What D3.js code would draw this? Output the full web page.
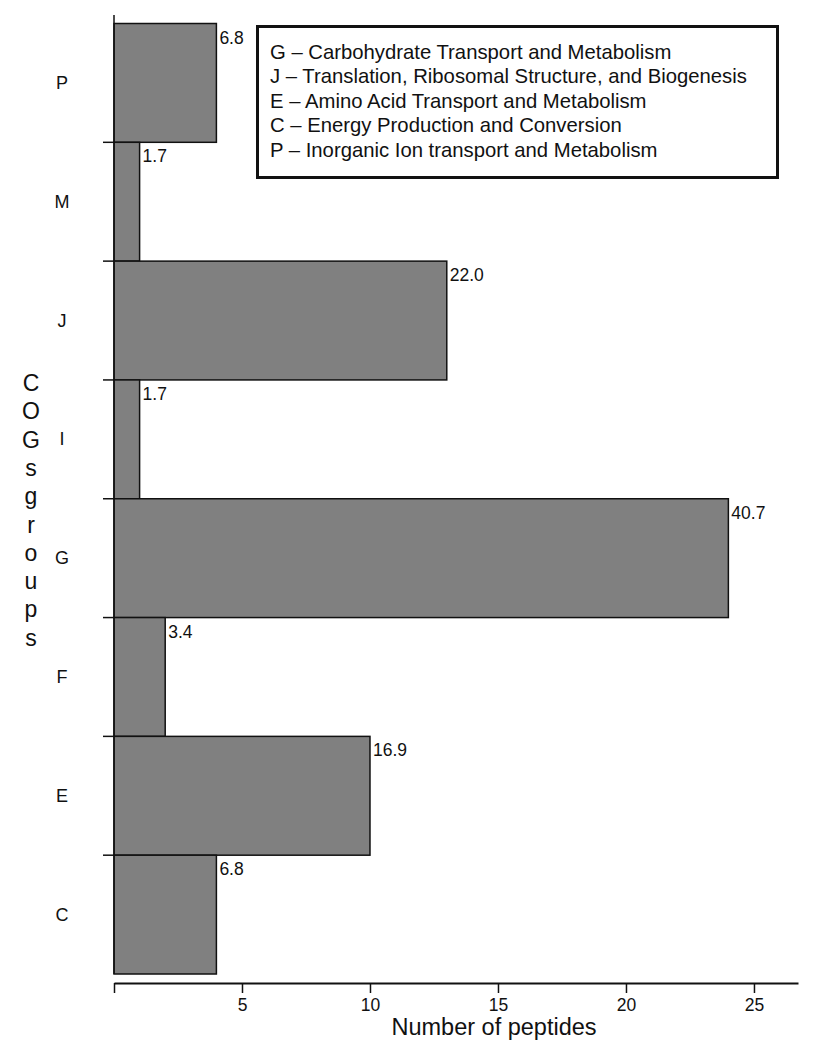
<!DOCTYPE html>
<html>
<head>
<meta charset="utf-8">
<script src="https://cdn.jsdelivr.net/npm/d3@7"></script>
<style>
  html, body { margin: 0; padding: 0; background: #fff; }
  svg { display: block; font-family: "Liberation Sans", Arial, Helvetica, sans-serif; }
</style>
</head>
<body>
<svg id="chart" width="816" height="1050"></svg>
<script>
// COG groups, top to bottom as drawn
const categories = ["P", "M", "J", "I", "G", "F", "E", "C"];
// number of peptides per group
const peptides = [4, 1, 13, 1, 24, 2, 10, 4];
// percentage labels printed at the bar ends
const percentLabels = ["6.8", "1.7", "22.0", "1.7", "40.7", "3.4", "16.9", "6.8"];
// x tick values
const xTicks = [0, 5, 10, 15, 20, 25];
// legend lines
const legendLines = [
  "G \u2013 Carbohydrate Transport and Metabolism",
  "J \u2013 Translation, Ribosomal Structure, and Biogenesis",
  "E \u2013 Amino Acid Transport and Metabolism",
  "C \u2013 Energy Production and Conversion",
  "P \u2013 Inorganic Ion transport and Metabolism"
];
const yTitle = "COGsgroups"; // stacked one letter per line, no gap for the space
const xTitle = "Number of peptides";

(function () {
  const svg = d3.select("#chart");

  // -----------------------------
  // Scales
  // -----------------------------
  const x0 = 114, xEnd = 798;
  const x = d3.scaleLinear().domain([0, 26.72]).range([x0, xEnd]);
  const y = d3.scaleBand().domain(categories).range([23.5, 974]).padding(0);

  const rows = categories.map((c, i) => ({ cat: c, v: peptides[i], lab: percentLabels[i] }));

  // -----------------------------
  // Bars
  // -----------------------------
  svg.append("g")
    .selectAll("rect")
    .data(rows)
    .enter()
    .append("rect")
    .attr("x", x(0))
    .attr("y", d => y(d.cat))
    .attr("width", d => x(d.v) - x(0))
    .attr("height", y.bandwidth())
    .attr("fill", "#808080")
    .attr("stroke", "#111")
    .attr("stroke-width", 1.5);

  // value labels
  svg.append("g")
    .selectAll("text")
    .data(rows)
    .enter()
    .append("text")
    .attr("x", d => x(d.v) + 3)
    .attr("y", d => y(d.cat) + 20)
    .attr("font-size", 17.5)
    .attr("fill", "#111")
    .text(d => d.lab);

  // -----------------------------
  // Y axis: line + ticks between bands
  // -----------------------------
  svg.append("line")
    .attr("x1", x0).attr("x2", x0)
    .attr("y1", 15).attr("y2", 974)
    .attr("stroke", "#111").attr("stroke-width", 1.5);

  const bounds = categories.slice(1).map(c => y(c));
  svg.append("g")
    .selectAll("line")
    .data(bounds)
    .enter()
    .append("line")
    .attr("x1", x0 - 11).attr("x2", x0)
    .attr("y1", d => d).attr("y2", d => d)
    .attr("stroke", "#111").attr("stroke-width", 1.5);

  svg.append("g")
    .selectAll("text")
    .data(categories)
    .enter()
    .append("text")
    .attr("x", 62)
    .attr("y", d => y(d) + y.bandwidth() / 2)
    .attr("text-anchor", "middle")
    .attr("dominant-baseline", "central")
    .attr("font-size", 18)
    .attr("fill", "#111")
    .text(d => d);

  // stacked y title
  svg.append("g")
    .selectAll("text")
    .data(yTitle.split(""))
    .enter()
    .append("text")
    .attr("x", 31)
    .attr("y", (d, i) => 383 + i * 28.3)
    .attr("text-anchor", "middle")
    .attr("dominant-baseline", "central")
    .attr("font-size", 23)
    .attr("fill", "#111")
    .text(d => d);

  // -----------------------------
  // X axis
  // -----------------------------
  const xAxis = d3.axisBottom(x)
    .tickValues(xTicks)
    .tickSize(10)
    .tickSizeOuter(0)
    .tickPadding(6)
    .tickFormat(d => d === 0 ? "" : d);

  const gx = svg.append("g")
    .attr("transform", "translate(0,983)")
    .call(xAxis);
  gx.select(".domain").attr("stroke", "#111").attr("stroke-width", 2);
  gx.selectAll(".tick line").attr("stroke", "#111").attr("stroke-width", 1.5);
  gx.selectAll(".tick text")
    .attr("font-size", 17.5)
    .attr("font-family", "Liberation Sans, Arial, sans-serif")
    .attr("fill", "#111");

  svg.append("text")
    .attr("x", 494)
    .attr("y", 1035)
    .attr("text-anchor", "middle")
    .attr("font-size", 23.5)
    .attr("fill", "#111")
    .text(xTitle);

  // -----------------------------
  // Legend box
  // -----------------------------
  svg.append("rect")
    .attr("x", 257.5).attr("y", 26.5)
    .attr("width", 520).attr("height", 151)
    .attr("fill", "#fff")
    .attr("stroke", "#111")
    .attr("stroke-width", 3);

  svg.append("g")
    .selectAll("text")
    .data(legendLines)
    .enter()
    .append("text")
    .attr("x", 270)
    .attr("y", (d, i) => 58.5 + i * 24.5)
    .attr("font-size", 20.3)
    .attr("fill", "#111")
    .text(d => d);
})();
</script>
</body>
</html>
